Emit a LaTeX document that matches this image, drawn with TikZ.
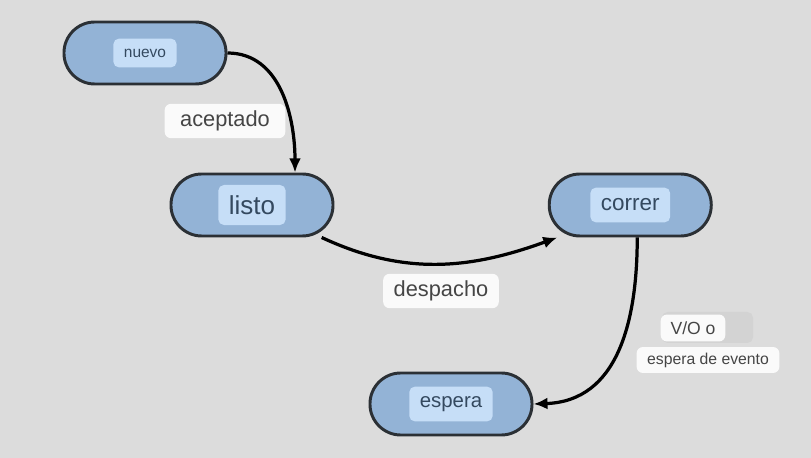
\documentclass[tikz,border=0pt]{standalone}
\usepackage{fontspec}
\setmainfont{Liberation Sans}
\usetikzlibrary{arrows.meta, positioning, calc}
\definecolor{bgclr}{HTML}{DCDCDC}
\definecolor{statefill}{HTML}{93B3D6}
\definecolor{stateline}{HTML}{2B3035}
\definecolor{tagfill}{HTML}{C6DEF7}
\definecolor{tagtext}{HTML}{34495F}
\definecolor{lbltext}{HTML}{454545}
\definecolor{greybox}{HTML}{D3D3D3}

\begin{document}
\begin{tikzpicture}[x=0.025cm, y=-0.025cm,
        state/.style={draw=stateline, fill=statefill, line width=2.1pt, rectangle, rounded corners=0.77cm, minimum width=4.05cm, minimum height=1.55cm},
        tag/.style={fill=tagfill, rounded corners=4pt, text=tagtext, inner xsep=7.5pt, inner ysep=2pt},
        lbl/.style={fill=white!98!black, rounded corners=4.5pt, text=lbltext, inner xsep=7.5pt, inner ysep=5pt},
        arrow/.style={-{Latex[length=10pt, width=8.5pt]}, line width=2.3pt}
    ]
        \fill[bgclr] (0,0) rectangle (811,458);
        \useasboundingbox (0,0) rectangle (811,458);

        % Nodes
            \node[state] (nuevo) at (145,53) {};
            \node[state] (listo) at (252,205) {};
            \node[state, right=5.33cm of listo] (correr) {};
            \node[state] (espera) at (451,404) {};

            \node[tag, minimum height=0.72cm, font=\fontsize{11}{13}\selectfont] (nuevo-t) at (nuevo) {nuevo};
            \node[tag, minimum height=1cm, font=\fontsize{18.5}{20}\selectfont] (listo-t) at (listo) {listo};
            \node[tag, minimum height=0.87cm, font=\fontsize{16}{18}\selectfont] (correr-t) at (correr) {correr};
            \node[tag, minimum height=0.87cm, font=\fontsize{14.5}{16}\selectfont] (espera-t) at (espera) {espera};

            % Arrows
            \draw[arrow] (nuevo.east) to[out=0, in=90] ($(listo.north)+(43,0)$);
            \draw[arrow] (listo.-25) to[out=-25, in=200] (correr.204);
            \draw[arrow] ($(correr.south)+(7,0)$) to[out=-90, in=2, looseness=1.1] (espera.east);

            % Labels
            \node[lbl, font=\fontsize{15.5}{17}\selectfont, inner xsep=11pt] (aceptado) at (225,121) {aceptado};
            \node[lbl, font=\fontsize{15.5}{17}\selectfont] (despacho) at (441,291) {despacho};
            \fill[greybox, rounded corners=4pt] (662,312) rectangle (753,343);
            \node[lbl, font=\fontsize{12.5}{14}\selectfont, inner xsep=7pt] (vo) at (693,328) {V/O o};
            \node[lbl, font=\fontsize{11.2}{13}\selectfont, inner ysep=4pt] (evento) at (708,360) {espera de evento};
\end{tikzpicture}
\end{document}
